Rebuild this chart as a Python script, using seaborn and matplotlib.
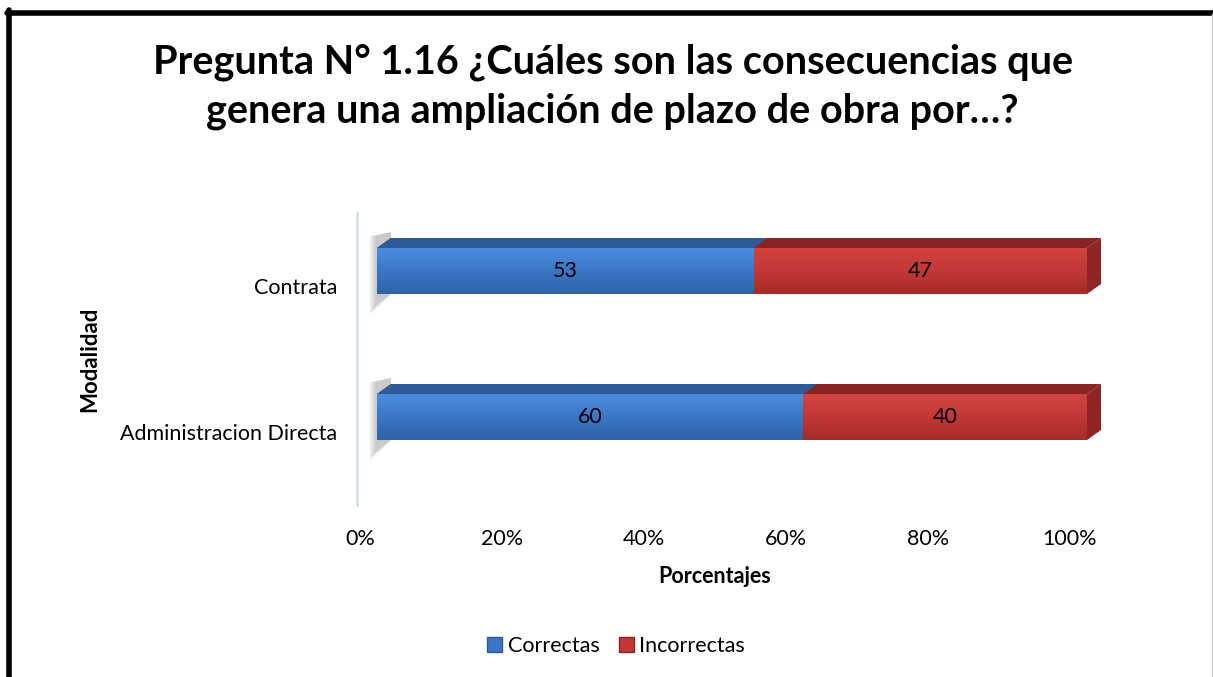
import numpy as np
import pandas as pd
import matplotlib.pyplot as plt
import matplotlib.transforms as mtransforms
from matplotlib.colors import LinearSegmentedColormap
from matplotlib.patches import Polygon, Patch
from matplotlib.lines import Line2D
import seaborn as sns

# datos
categories = ["Contrata", "Administracion Directa"]
correctas = [53, 60]
incorrectas = [47, 40]
series_names = ["Correctas", "Incorrectas"]
x_ticks = [0, 20, 40, 60, 80, 100]
x_tick_labels = ["0%", "20%", "40%", "60%", "80%", "100%"]

TITLE = "Pregunta N° 1.16 ¿Cuáles son las consecuencias que\ngenera una ampliación de plazo de obra por…?"

# colores
BLUE_FRONT = ["#4b8de0", "#3b76c6", "#2f63a8"]
BLUE_TOP = "#2d5b97"
RED_FRONT = ["#d3433f", "#c23836", "#a72b29"]
RED_TOP = "#8a2422"
RED_SIDE = "#8f2624"
AXIS_COLOR = "#d5dff0"

W, H = 1213, 677
DPI = 100

sns.set_theme(style="white")
plt.rcParams["font.family"] = ["Lato", "DejaVu Sans"]
plt.rcParams["text.color"] = "black"
plt.rcParams["axes.labelcolor"] = "black"
plt.rcParams["xtick.color"] = "black"
plt.rcParams["ytick.color"] = "black"

df = pd.DataFrame({"Modalidad": categories, "Correctas": correctas, "Incorrectas": incorrectas})
df["Total"] = df["Correctas"] + df["Incorrectas"]

fig = plt.figure(figsize=(W / DPI, H / DPI), dpi=DPI)
fig.patch.set_facecolor("white")
ax = fig.add_axes([360 / W, 1 - 505 / H, 710 / W, 292 / H])

BAR_W = 0.315
sns.barplot(data=df, x="Total", y="Modalidad", orient="h", color=RED_FRONT[1],
            width=BAR_W, saturation=1, ax=ax, zorder=2)
sns.barplot(data=df, x="Correctas", y="Modalidad", orient="h", color=BLUE_FRONT[1],
            width=BAR_W, saturation=1, ax=ax, zorder=2)

ax.set_xlim(0, 100)
ax.set_ylim(1.5, -0.5)

# desplazamiento tipo 3D (Excel)
shift = mtransforms.ScaledTranslation(17 / DPI, 15 / DPI, fig.dpi_scale_trans)
tr = ax.transData + shift
px_x = 710 / 100.0
px_y = 292 / 2.0
ddx = 14 / px_x
ddy = 10 / px_y

patches = list(ax.patches)
n = len(categories)
red_bars = patches[:n]
blue_bars = patches[n:]

cmap_blue = LinearSegmentedColormap.from_list("b", BLUE_FRONT)
cmap_red = LinearSegmentedColormap.from_list("r", RED_FRONT)
grad = np.linspace(0, 1, 64).reshape(-1, 1)


def draw_face(p, cmap, top_color, side=False, side_color=None):
    p.set_transform(tr)
    p.set_edgecolor("none")
    p.set_clip_on(False)
    x0, y0 = p.get_x(), p.get_y()
    w, h = p.get_width(), p.get_height()
    x1 = x0 + w
    im = ax.imshow(grad, extent=(x0, x1, y0 + h, y0), origin="upper", aspect="auto",
                   cmap=cmap, zorder=3, interpolation="bilinear")
    im.set_transform(tr)
    im.set_clip_on(False)
    im.set_clip_path(p)
    top = Polygon([(x0, y0), (x0 + ddx, y0 - ddy), (x1 + ddx, y0 - ddy), (x1, y0)],
                  closed=True, facecolor=top_color, edgecolor="none", zorder=3,
                  transform=tr, clip_on=False)
    ax.add_patch(top)
    if side:
        sd = Polygon([(x1, y0), (x1 + ddx, y0 - ddy), (x1 + ddx, y0 + h - ddy), (x1, y0 + h)],
                     closed=True, facecolor=side_color, edgecolor="none", zorder=3,
                     transform=tr, clip_on=False)
        ax.add_patch(sd)
        # sombra difusa a la izquierda
        for k in range(4):
            e = 0.25 + 0.25 * k
            sh = Polygon([(x0 - e, y0 - ddy * 1.2), (x0 + ddx, y0 - ddy * 1.6),
                          (x0 + ddx, y0 + h), (x0 - e, y0 + h + 0.08 + 0.02 * k)],
                         closed=True, facecolor="#7f7f7f", alpha=0.12, edgecolor="none",
                         zorder=1, transform=tr, clip_on=False)
            ax.add_patch(sh)


for p in red_bars:
    draw_face(p, cmap_red, RED_TOP, side=True, side_color=RED_SIDE)
for p in blue_bars:
    draw_face(p, cmap_blue, BLUE_TOP)

# etiquetas de valor
for i in range(n):
    yc = blue_bars[i].get_y() + blue_bars[i].get_height() / 2
    ax.text(correctas[i] / 2, yc, str(correctas[i]), ha="center", va="center",
            fontsize=15.5, color="black", transform=tr, zorder=5)
    ax.text(correctas[i] + incorrectas[i] / 2, yc, str(incorrectas[i]), ha="center",
            va="center", fontsize=15.5, color="black", transform=tr, zorder=5)

ax.set_ylim(1.5, -0.5)
ax.set_xlim(0, 100)

ax.set_xticks(x_ticks)
ax.set_xticklabels(x_tick_labels, fontsize=15.5)
ax.tick_params(axis="x", length=0, pad=17.5)
ax.tick_params(axis="y", length=0, pad=14.5, labelsize=15.5)
ax.set_xlabel("Porcentajes", fontsize=15.5, fontweight="bold", labelpad=12)
ax.set_ylabel("Modalidad", fontsize=16, fontweight="bold", labelpad=14)
for s in ["top", "right", "bottom"]:
    ax.spines[s].set_visible(False)
ax.spines["left"].set_color(AXIS_COLOR)
ax.spines["left"].set_linewidth(2)
ax.spines["left"].set_position(("outward", 2))
ax.grid(False)
ax.set_facecolor("white")

fig.text(0.505, 1 - 87 / H, TITLE, ha="center", va="center", fontsize=28.5,
         fontweight="bold", linespacing=1.4, color="black")

handles = [Patch(facecolor=BLUE_FRONT[1], edgecolor=BLUE_TOP), Patch(facecolor=RED_FRONT[1], edgecolor=RED_TOP)]
fig.legend(handles, series_names, loc="center", bbox_to_anchor=(0.508, 1 - 646 / H), ncol=2,
           frameon=False, fontsize=15.5, handlelength=0.7, handleheight=0.7,
           handletextpad=0.25, columnspacing=0.9)

# marco
fig.add_artist(Line2D([8.5 / W, 8.5 / W], [0, 1 - 10 / H], color="black", lw=4, transform=fig.transFigure))
fig.add_artist(Line2D([6.5 / W, 1], [1 - 12.5 / H, 1 - 12.5 / H], color="black", lw=4, transform=fig.transFigure))
fig.add_artist(Line2D([1211.5 / W, 1211.5 / W], [0, 1 - 14 / H], color="#c8c8c8", lw=1, transform=fig.transFigure))

fig.savefig("out.png", dpi=DPI, facecolor="white")
